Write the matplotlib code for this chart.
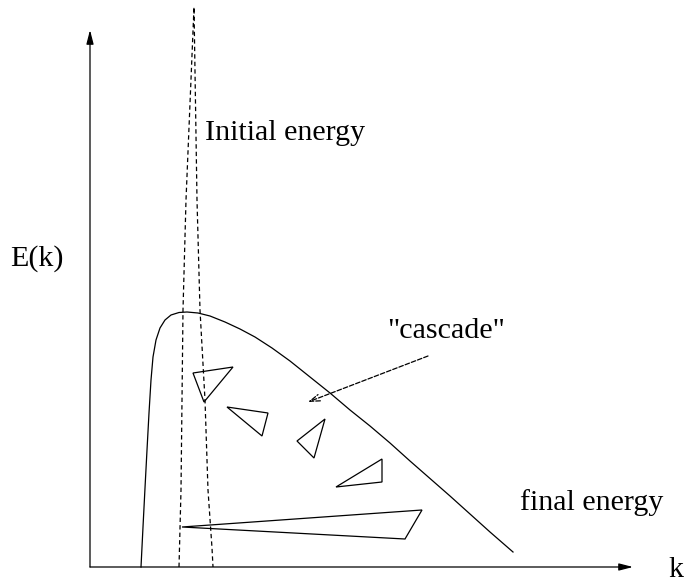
import matplotlib
matplotlib.use('Agg')
import matplotlib.pyplot as plt
from matplotlib.patches import Polygon

# schematic coordinates: k to the right, E(k) upward, origin at the axes corner

# final energy spectrum (solid curve)
final_k = [51, 53, 55, 57, 59, 61, 63, 66, 70, 75, 81, 89, 97, 108, 120, 135,
           150, 165, 182, 200, 220, 240, 260, 280, 300, 320, 340, 360, 380, 400, 423]
final_E = [0, 40, 79, 117, 154, 187, 210, 227, 239, 247, 252, 254.5, 255, 254, 251, 245,
           238, 230, 219, 206, 190, 174, 157, 141, 124, 106, 88.5, 71, 53, 35, 15]

# initial energy spectrum (narrow dashed peak)
init_k = [89, 91, 93, 96, 104, 107, 110, 115, 118, 122, 123]
init_E = [0, 77, 257, 367, 560, 367, 257, 167, 77, 19, 0]

# eddies of the cascade (triangles)
triangles = [
    [(103, 194), (143, 200), (114, 165)],
    [(137, 160), (178, 154), (172, 131)],
    [(207, 126), (235, 148), (224, 109)],
    [(292, 108), (292, 85), (246, 80)],
    [(92, 40), (332, 57), (315, 28)],
]

cascade_from = (338, 211)
cascade_to = (218, 165)

fig = plt.figure(figsize=(6.85, 5.86), dpi=100)
ax = fig.add_axes([0, 0, 1, 1])
ax.set_xlim(-90, 595)
ax.set_ylim(-19, 567)
ax.axis('off')

lw = 0.9
dash = (0, (3.5, 2.5))
font = dict(family=['Liberation Serif', 'DejaVu Serif'], fontsize=21.6, va='baseline')

# axes with arrows
arrow = dict(arrowstyle='-|>,head_length=0.7,head_width=0.18', lw=lw, color='black',
             shrinkA=0, shrinkB=0, mutation_scale=12)
ax.annotate('', xy=(543, 0), xytext=(0, 0), arrowprops=arrow)
ax.annotate('', xy=(0, 537), xytext=(0, 0), arrowprops=arrow)

ax.plot(final_k, final_E, color='black', lw=lw, solid_joinstyle='round')
ax.plot(init_k, init_E, color='black', lw=lw, linestyle=dash)

for tri in triangles:
    ax.add_patch(Polygon(tri, closed=True, fill=False, edgecolor='black', lw=lw))

ax.annotate('', xy=cascade_to, xytext=cascade_from,
            arrowprops=dict(arrowstyle='->,head_length=0.6,head_width=0.2', lw=lw,
                            color='black', linestyle='--', shrinkA=0, shrinkB=0,
                            mutation_scale=12))

ax.text(115, 427, 'Initial energy', **font)
ax.text(-80, 301, 'E(k)', **font)
ax.text(297, 229, '"cascade"', **font)
ax.text(430, 57, 'final energy', **font)
ax.text(578, -10, 'k', **font)

fig.savefig('out.png', dpi=100, facecolor='white')
